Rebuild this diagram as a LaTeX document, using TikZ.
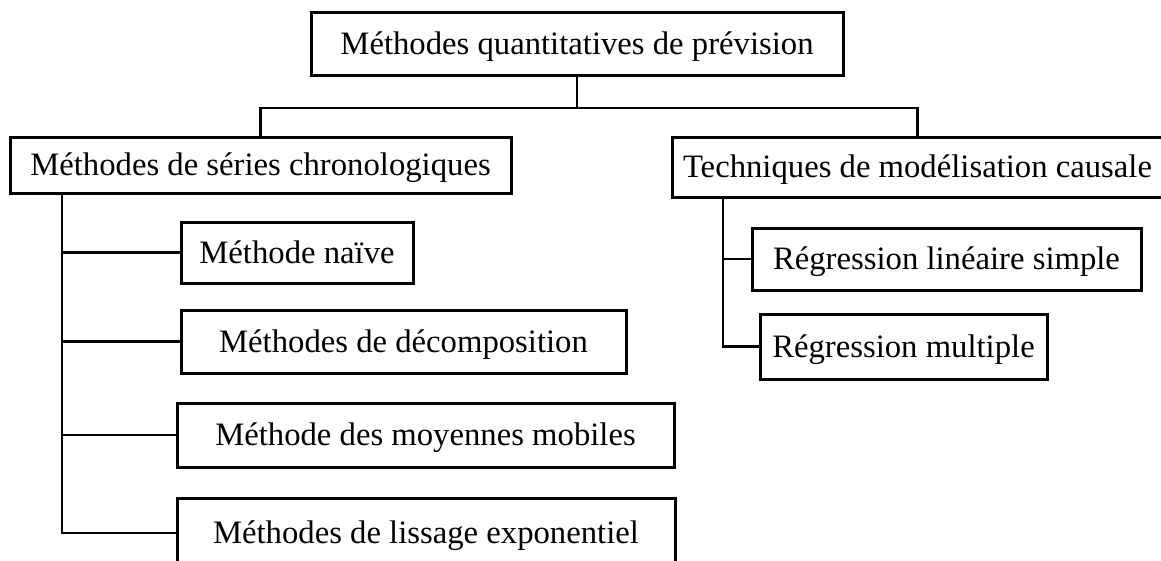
\documentclass[tikz,border=0pt]{standalone}
\usepackage{fontspec}
\setmainfont{Liberation Serif}
\begin{document}
\begin{tikzpicture}[x=1pt,y=-1pt,
  box/.style={draw, line width=3pt, fill=white, inner sep=0pt,
    text height=28.6pt, text depth=7pt,
    font=\fontsize{32.7}{39}\selectfont},
  link/.style={draw, line width=2.2pt}]
\useasboundingbox (0,0) rectangle (1161,560);
% boxes: centre, width, height
\node[box, minimum width=532pt, minimum height=63pt] (top) at (577,43.5) {Méthodes quantitatives de prévision};
\node[box, minimum width=501pt, minimum height=56pt] (ts) at (260.5,165) {Méthodes de séries chronologiques};
\node[box, minimum width=491pt, minimum height=60pt] (cm) at (917.5,167) {Techniques de modélisation causale};
\node[box, minimum width=232pt, minimum height=61pt] (naive) at (297,252.5) {Méthode naïve};
\node[box, minimum width=445pt, minimum height=63pt] (decomp) at (403.5,341.5) {Méthodes de décomposition};
\node[box, minimum width=497pt, minimum height=64pt] (mm) at (425.5,435) {Méthode des moyennes mobiles};
\node[box, minimum width=498pt, minimum height=70pt] (lisse) at (426,533) {Méthodes de lissage exponentiel};
\node[box, minimum width=389pt, minimum height=62pt] (rls) at (946.5,259) {Régression linéaire simple};
\node[box, minimum width=287pt, minimum height=65pt] (rm) at (903.5,346.5) {Régression multiple};
% tree connectors
\coordinate (split) at (577,108);
\coordinate (tstrunk) at (62,193);
\coordinate (cmtrunk) at (723,197);
\draw[link] (top.south) -- (split);
\draw[link] (ts.north) |- (split) -| (cm.north);
\draw[link] (tstrunk) |- (naive.west);
\draw[link] (tstrunk) |- (decomp.west);
\draw[link] (tstrunk) |- (mm.west);
\draw[link] (tstrunk) |- (lisse.west);
\draw[link] (cmtrunk) |- (rls.west);
\draw[link] (cmtrunk) |- (rm.west);
\end{tikzpicture}
\end{document}
